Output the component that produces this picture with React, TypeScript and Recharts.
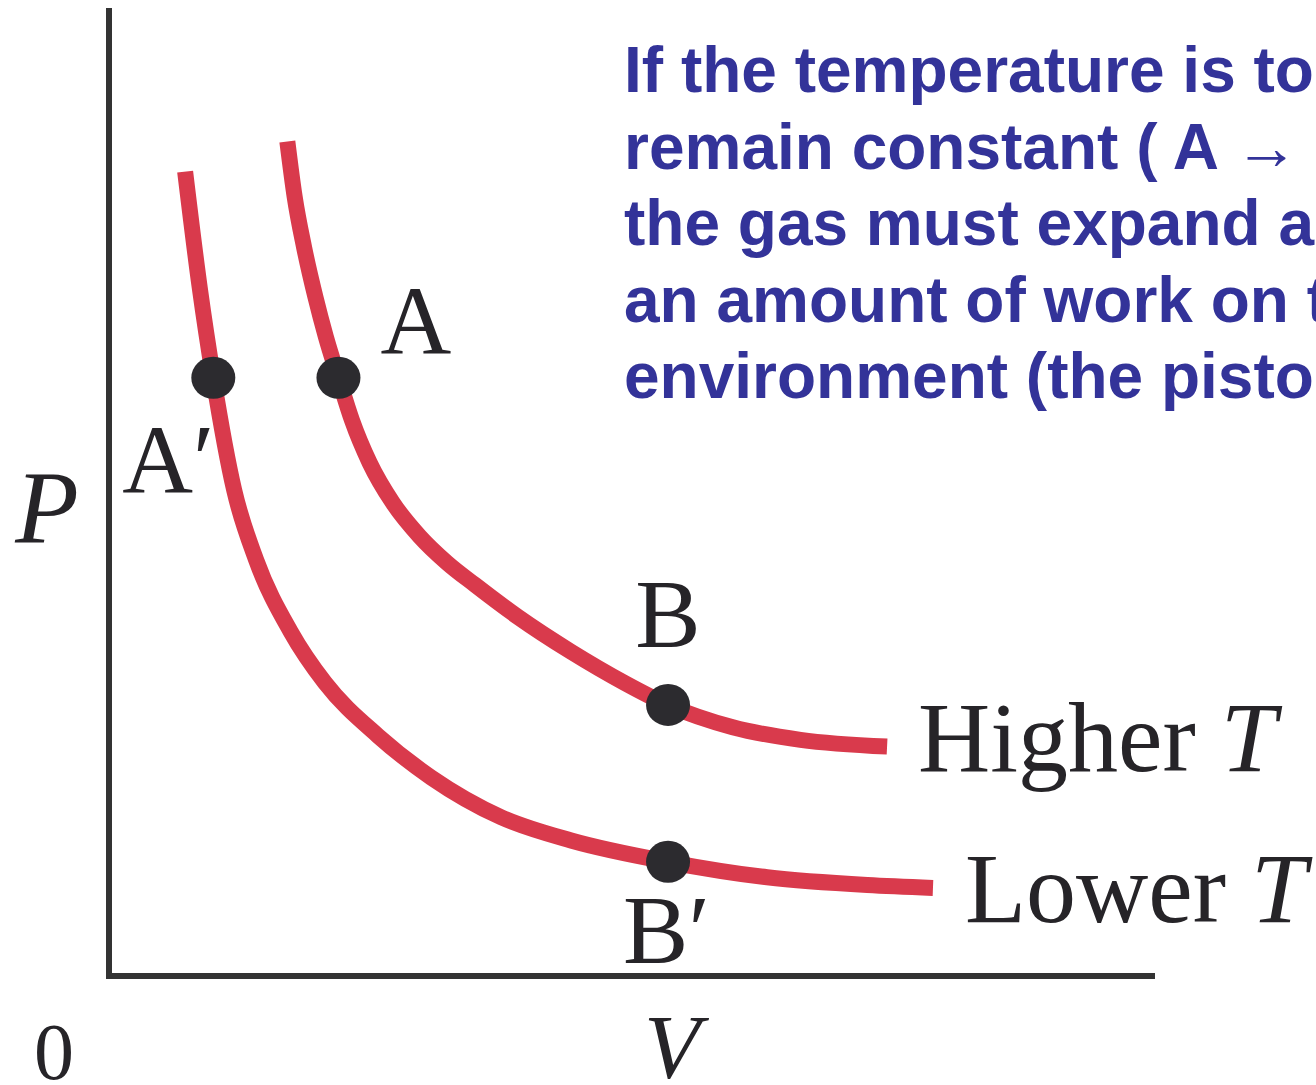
import React from 'react';
import { ComposedChart, Line, Scatter, XAxis, YAxis, Customized } from 'recharts';

// Isotherm readings: volume V and pressure P (arbitrary units)
const higherT = [
  { v: 1.71, p: 8.62 },
  { v: 1.78, p: 8.05 },
  { v: 1.87, p: 7.53 },
  { v: 1.98, p: 7.01 },
  { v: 2.08, p: 6.6 },
  { v: 2.2, p: 6.18 },
  { v: 2.33, p: 5.74 },
  { v: 2.5, p: 5.3 },
  { v: 2.72, p: 4.89 },
  { v: 2.98, p: 4.54 },
  { v: 3.24, p: 4.27 },
  { v: 3.51, p: 4.04 },
  { v: 3.92, p: 3.71 },
  { v: 4.43, p: 3.35 },
  { v: 4.94, p: 3.03 },
  { v: 5.36, p: 2.8 },
  { v: 5.98, p: 2.57 },
  { v: 6.63, p: 2.44 },
  { v: 7.46, p: 2.37 },
];

const lowerT = [
  { v: 0.73, p: 8.31 },
  { v: 0.87, p: 7.11 },
  { v: 1.0, p: 6.18 },
  { v: 1.2, p: 5.02 },
  { v: 1.41, p: 4.3 },
  { v: 1.74, p: 3.56 },
  { v: 2.07, p: 3.03 },
  { v: 2.58, p: 2.48 },
  { v: 3.09, p: 2.05 },
  { v: 3.76, p: 1.64 },
  { v: 4.43, p: 1.4 },
  { v: 5.36, p: 1.18 },
  { v: 6.31, p: 1.02 },
  { v: 7.27, p: 0.94 },
  { v: 7.9, p: 0.91 },
];

// Marked states on the two isotherms
const statePoints = [
  { v: 2.2, p: 6.18, name: 'A' },
  { v: 1.0, p: 6.18, name: 'A′' },
  { v: 5.36, p: 2.8, name: 'B' },
  { v: 5.36, p: 1.18, name: 'B′' },
];

const curveNames = { higher: 'Higher', lower: 'Lower' };
const axisTitles = { x: 'V', y: 'P', origin: '0' };

const noteLines = [
  'If the temperature is to',
  'remain constant ( A →',
  'the gas must expand a',
  'an amount of work on t',
  'environment (the pisto',
];

const RED = '#d93a4c';
const INK = '#262428';
const DOT = '#2c2b2f';
const BLUE = '#333399';
const SERIF = '"Liberation Serif", "Times New Roman", serif';
const SANS = '"Liberation Sans", Arial, sans-serif';

const W = 1316;
const H = 1085;

const statePlacement: Record<string, { dx: number; dy: number; anchor: 'start' | 'middle' | 'end' }> = {
  'A': { dx: 42, dy: -25, anchor: 'start' },
  'A′': { dx: -91, dy: 114, anchor: 'start' },
  'B': { dx: 0, dy: -58, anchor: 'middle' },
  'B′': { dx: -45, dy: 101, anchor: 'start' },
};

const renderStatePoint = (props: any) => {
  const { cx, cy, payload } = props;
  const place = statePlacement[payload.name];
  return (
    <g>
      <ellipse cx={cx} cy={cy} rx={22} ry={21} fill={DOT} />
      <text
        x={cx + place.dx}
        y={cy + place.dy}
        textAnchor={place.anchor}
        fontFamily={SERIF}
        fontSize={98}
        fill={INK}
      >
        {payload.name}
      </text>
    </g>
  );
};

const makeEndLabel = (name: string, count: number, dx: number, dy: number) => (props: any) => {
  const { cx, cy, index } = props;
  if (index !== count - 1) return <g key={`d-${name}-${index}`} />;
  return (
    <text
      key={`d-${name}-${index}`}
      x={cx + dx}
      y={cy + dy}
      fontFamily={SERIF}
      fontSize={100}
      fill={INK}
    >
      {name}{' '}
      <tspan fontStyle="italic">T</tspan>
    </text>
  );
};

const Annotations = () => (
  <g>
    <text x={47} y={543} textAnchor="middle" fontFamily={SERIF} fontStyle="italic" fontSize={104} fill={INK}>
      {axisTitles.y}
    </text>
    <text x={672} y={1078} textAnchor="middle" fontFamily={SERIF} fontStyle="italic" fontSize={92} fill={INK}>
      {axisTitles.x}
    </text>
    <text x={54} y={1079} textAnchor="middle" fontFamily={SERIF} fontSize={80} fill={INK}>
      {axisTitles.origin}
    </text>
    {noteLines.map((line, i) => (
      <text
        key={line}
        x={624}
        y={92 + i * 76.5}
        fontFamily={SANS}
        fontWeight="bold"
        fontSize={64}
        fill={BLUE}
      >
        {line}
      </text>
    ))}
  </g>
);

export default function App() {
  return (
    <div style={{ position: 'absolute', left: 0, top: 0, width: W, height: H, background: '#fff', overflow: 'hidden' }}>
      <ComposedChart width={W} height={H} margin={{ top: 8, right: 164, bottom: 0, left: 0 }}>
        <XAxis
          type="number"
          dataKey="v"
          domain={[0, 10]}
          tick={false}
          tickLine={false}
          height={109}
          axisLine={{ stroke: '#333', strokeWidth: 6, strokeLinecap: 'square' }}
        />
        <YAxis
          type="number"
          dataKey="p"
          domain={[0, 10]}
          tick={false}
          tickLine={false}
          width={109}
          axisLine={{ stroke: '#333', strokeWidth: 6 }}
        />
        <Line
          data={higherT}
          dataKey="p"
          type="monotone"
          stroke={RED}
          strokeWidth={16}
          dot={makeEndLabel(curveNames.higher, higherT.length, 31, 24)}
          activeDot={false}
          isAnimationActive={false}
        />
        <Line
          data={lowerT}
          dataKey="p"
          type="monotone"
          stroke={RED}
          strokeWidth={16}
          dot={makeEndLabel(curveNames.lower, lowerT.length, 32, 34)}
          activeDot={false}
          isAnimationActive={false}
        />
        <Scatter data={statePoints} dataKey="p" shape={renderStatePoint} isAnimationActive={false} />
        <Customized component={Annotations} />
      </ComposedChart>
    </div>
  );
}
